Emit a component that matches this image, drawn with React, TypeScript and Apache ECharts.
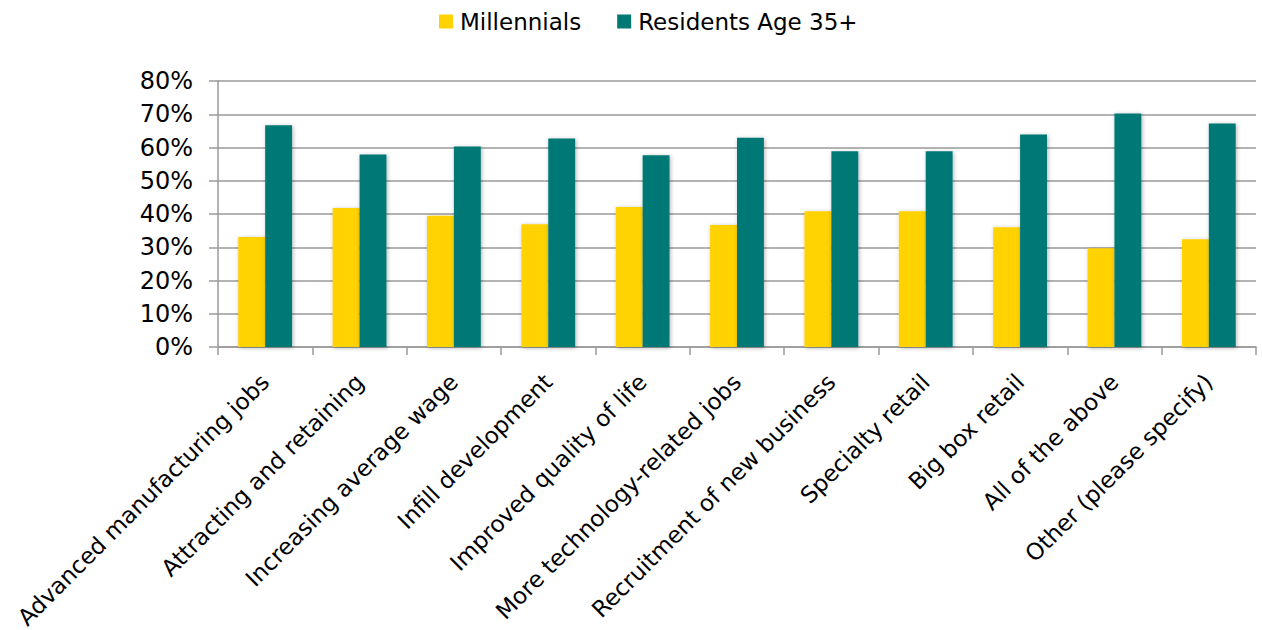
import React, { useEffect, useRef } from "react";
import * as echarts from "echarts";

const categories = [
  "Advanced manufacturing jobs",
  "Attracting and retaining",
  "Increasing average wage",
  "Infill development",
  "Improved quality of life",
  "More technology-related jobs",
  "Recruitment of new business",
  "Specialty retail",
  "Big box retail",
  "All of the above",
  "Other (please specify)",
];
const millennials = [33.1, 41.8, 39.5, 36.9, 42.1, 36.7, 40.8, 40.8, 36.0, 29.7, 32.4];
const residents35 = [66.7, 57.9, 60.3, 62.7, 57.7, 62.9, 58.9, 58.9, 63.9, 70.2, 67.2];
const yTicks = [0, 10, 20, 30, 40, 50, 60, 70, 80];

const FONT = "DejaVu Sans, Verdana, sans-serif";

export default function App() {
  const ref = useRef<HTMLDivElement>(null);
  useEffect(() => {
    if (!ref.current) return;
    const chart = echarts.init(ref.current, null, { renderer: "svg" });
    const shadow = {
      shadowBlur: 4,
      shadowColor: "rgba(0,0,0,0.3)",
      shadowOffsetX: 1,
      shadowOffsetY: 1,
    };
    chart.setOption({
      animation: false,
      backgroundColor: "#ffffff",
      legend: {
        top: 5,
        left: 434,
        itemWidth: 14,
        itemHeight: 14,
        itemGap: 36,
        icon: "rect",
        textStyle: { fontFamily: FONT, fontSize: 23, color: "#000", padding: [0, 0, 0, 2] },
        data: ["Millennials", "Residents Age 35+"],
      },
      grid: {
        left: 218,
        right: 6,
        top: 81,
        bottom: 283,
        containLabel: false,
        outerBoundsMode: "none",
      },
      xAxis: {
        type: "category",
        data: categories,
        axisLine: { show: true, lineStyle: { color: "#9a9a9a", width: 1.5 } },
        axisTick: { show: true, length: 8, lineStyle: { color: "#9a9a9a", width: 1.5 } },
        axisLabel: {
          rotate: 45,
          interval: 0,
          margin: 31,
          fontFamily: FONT,
          fontSize: 23,
          color: "#000",
        },
      },
      yAxis: {
        type: "value",
        min: yTicks[0],
        max: yTicks[yTicks.length - 1],
        interval: 10,
        axisLine: { show: true, lineStyle: { color: "#9a9a9a", width: 1.5 } },
        axisTick: { show: true, length: 9, lineStyle: { color: "#9a9a9a", width: 1.5 } },
        splitLine: { show: true, lineStyle: { color: "#9a9a9a", width: 1.5 } },
        axisLabel: {
          margin: 25,
          fontFamily: FONT,
          fontSize: 24,
          color: "#000",
          formatter: (v: number) => `${v}%`,
        },
      },
      series: [
        {
          name: "Millennials",
          type: "bar",
          data: millennials,
          barGap: "0%",
          barCategoryGap: "43%",
          itemStyle: { color: "#FFD200", ...shadow },
        },
        {
          name: "Residents Age 35+",
          type: "bar",
          data: residents35,
          barGap: "0%",
          barCategoryGap: "43%",
          itemStyle: { color: "#007874", ...shadow },
        },
      ],
    });
    return () => chart.dispose();
  }, []);
  return (
    <div
      ref={ref}
      style={{ position: "absolute", left: 0, top: 0, width: 1262, height: 630 }}
    />
  );
}
